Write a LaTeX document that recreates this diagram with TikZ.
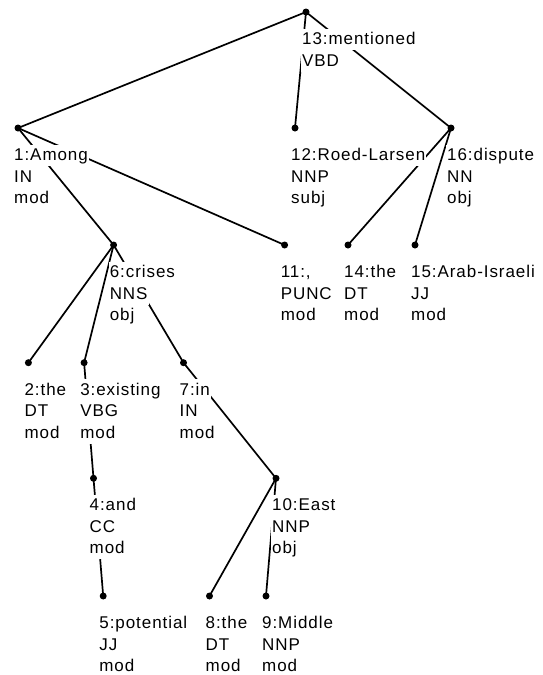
\documentclass[tikz,border=0pt]{standalone}
\usepackage{fontspec}
\setmainfont{Liberation Sans}[LetterSpace=5.5]
\tikzset{
  dot/.style={circle,fill=black,inner sep=0pt,minimum size=7pt},
  edge/.style={line width=1.7pt,black},
  wl/.style={anchor=base west,fill=white,inner xsep=1pt,inner ysep=0pt,
    text height=16pt,text depth=5.5pt,font=\fontsize{17}{21.5}\selectfont},
}
\newcommand\wordtwo[3]{%
  \node[wl] (#1a) at ([xshift=-5pt,yshift=-32.5pt]d#1.center) {#2};
  \node[wl] (#1b) at ([yshift=-21.5pt]#1a.base west) {#3};
}
\newcommand\wordthree[4]{%
  \wordtwo{#1}{#2}{#3}
  \node[wl] (#1c) at ([yshift=-21.5pt]#1b.base west) {#4};
}
\begin{document}
\begin{tikzpicture}[x=1pt,y=-1pt]
\useasboundingbox[fill=white] (0,0) rectangle (543,675);
% dots
\node[dot] (d13) at (306,12) {};
\node[dot] (d1) at (18,128) {};
\node[dot] (d12) at (295,128) {};
\node[dot] (d16) at (451,128) {};
\node[dot] (d6) at (113.6,245) {};
\node[dot] (d11) at (284.6,245) {};
\node[dot] (d14) at (348,245) {};
\node[dot] (d15) at (415,245) {};
\node[dot] (d2) at (28.4,362.7) {};
\node[dot] (d3) at (84.1,362.7) {};
\node[dot] (d7) at (183.5,362.7) {};
\node[dot] (d4) at (93.5,478.3) {};
\node[dot] (d10) at (276,478.3) {};
\node[dot] (d5) at (103.2,596) {};
\node[dot] (d8) at (209.5,596) {};
\node[dot] (d9) at (266,596) {};
% edges
\draw[edge] (d13.center) -- (d1.center);
\draw[edge] (d13.center) -- (d12.center);
\draw[edge] (d13.center) -- (d16.center);
\draw[edge] (d1.center) -- (d6.center);
\draw[edge] (d1.center) -- (d11.center);
\draw[edge] (d16.center) -- (d14.center);
\draw[edge] (d16.center) -- (d15.center);
\draw[edge] (d6.center) -- (d2.center);
\draw[edge] (d6.center) -- (d3.center);
\draw[edge] (d6.center) -- (d7.center);
\draw[edge] (d3.center) -- (d4.center);
\draw[edge] (d4.center) -- (d5.center);
\draw[edge] (d7.center) -- (d10.center);
\draw[edge] (d10.center) -- (d8.center);
\draw[edge] (d10.center) -- (d9.center);
% labels
\wordtwo{13}{13:mentioned}{VBD}
\wordthree{1}{1:Among}{IN}{mod}
\wordthree{12}{12:Roed-Larsen}{NNP}{subj}
\wordthree{16}{16:dispute}{NN}{obj}
\wordthree{6}{6:crises}{NNS}{obj}
\wordthree{11}{11:,}{PUNC}{mod}
\wordthree{14}{14:the}{DT}{mod}
\wordthree{15}{15:Arab-Israeli}{JJ}{mod}
\wordthree{2}{2:the}{DT}{mod}
\wordthree{3}{3:existing}{VBG}{mod}
\wordthree{7}{7:in}{IN}{mod}
\wordthree{4}{4:and}{CC}{mod}
\wordthree{10}{10:East}{NNP}{obj}
\wordthree{5}{5:potential}{JJ}{mod}
\wordthree{8}{8:the}{DT}{mod}
\wordthree{9}{9:Middle}{NNP}{mod}
\end{tikzpicture}
\end{document}
